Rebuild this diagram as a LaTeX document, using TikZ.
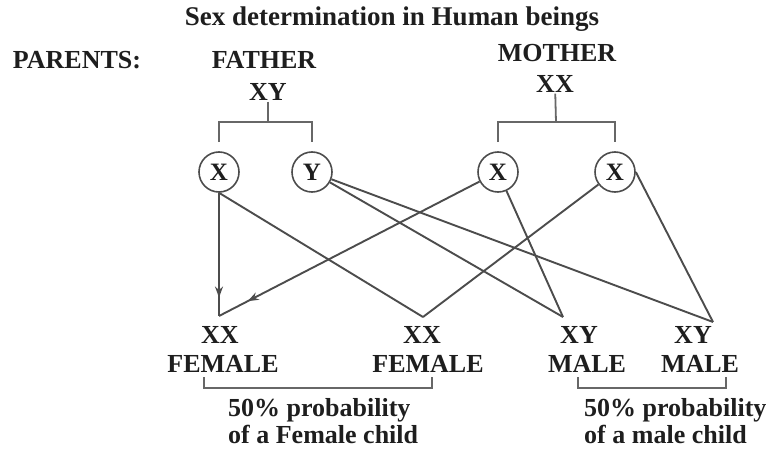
\documentclass[tikz,border=0pt]{standalone}
\usepackage{fontspec}
\setmainfont{Liberation Serif}
\usetikzlibrary{arrows.meta,decorations.markings}

\definecolor{inkcol}{HTML}{1E1E1E}
\definecolor{lncol}{HTML}{4C4C4C}

\tikzset{
	lbl/.style={font=\fontsize{26}{27}\selectfont\bfseries, text=inkcol, inner sep=1pt},
	gamete/.style={circle, draw=lncol, line width=1.6pt, minimum size=40pt, inner sep=0pt,
		font=\fontsize{25}{25}\selectfont\bfseries, text=inkcol},
	link/.style={draw=lncol, line width=1.9pt},
	bracket/.style={draw=lncol!85, line width=1.8pt},
	midarrow/.style={postaction=decorate, decoration={markings,
		mark=at position #1 with {\arrow{Stealth[length=11pt,width=8pt]}}}}
}

\begin{document}
\begin{tikzpicture}[x=1pt,y=-1pt]
	\useasboundingbox (0,0) rectangle (779,452);
	% headings
	\node[lbl, font=\fontsize{27}{27}\selectfont\bfseries] (title) at (392,19) {Sex determination in Human beings};
	\node[lbl] (parents) at (77,60) {PARENTS:};
	\node[lbl] (father) at (264,60) {FATHER};
	\node[lbl] (fgt) at (268,92) {XY};
	\node[lbl] (mother) at (557,53) {MOTHER};
	\node[lbl] (mgt) at (555,84) {XX};
	
	% gametes
	\node[gamete] (x1) at (219,172) {X};
	\node[gamete] (y1) at (312,172) {Y};
	\node[gamete] (x2) at (498,172) {X};
	\node[gamete] (x3) at (615,172) {X};
	
	\coordinate (fb) at (268,122);
	\coordinate (mb) at (556,122);
	\draw[bracket] (fgt) -- (fb);
	\draw[bracket] ([yshift=9pt]x1.north) |- (fb) -| ([yshift=9pt]y1.north);
	\draw[bracket] (mgt) -- (mb);
	\draw[bracket] ([yshift=9pt]x2.north) |- (mb) -| ([yshift=9pt]x3.north);
	
	% offspring
	\coordinate (dA) at (219,316);
	\coordinate (dB) at (423,317);
	\coordinate (dC) at (563,317);
	\coordinate (dD) at (713,322);
	\node[lbl] (gtA) at (220,335) {XX};
	\node[lbl] (gtB) at (422,335) {XX};
	\node[lbl] (gtC) at (579,335) {XY};
	\node[lbl] (gtD) at (693,335) {XY};
	\node[lbl] (sexA) at (223,364) {FEMALE};
	\node[lbl] (sexB) at (428,364) {FEMALE};
	\node[lbl] (sexC) at (587,364) {MALE};
	\node[lbl] (sexD) at (700,364) {MALE};
	
	\draw[link, midarrow=0.85] (x1.south) -- (dA);
	\draw[link] (x1.south) -- (dB);
	\draw[link] (y1) -- (dC);
	\draw[link] (y1) -- (dD);
	\draw[link, midarrow=0.89] (x2) -- (dA);
	\draw[link] (x2) -- (dC);
	\draw[link] (x3) -- (dB);
	\draw[link] (x3.east) -- (dD);
	
	% probabilities
	\draw[bracket] (204,377) -- (204,388) -- (432,388) -- (432,377);
	\draw[bracket] (578,377) -- (578,388) -- (726,388) -- (726,377);
	\node[lbl, align=left, anchor=west] (probF) at (227,421) {50\% probability\\of a Female child};
	\node[lbl, align=left, anchor=west] (probM) at (583,421) {50\% probability\\of a male child};
\end{tikzpicture}
\end{document}
